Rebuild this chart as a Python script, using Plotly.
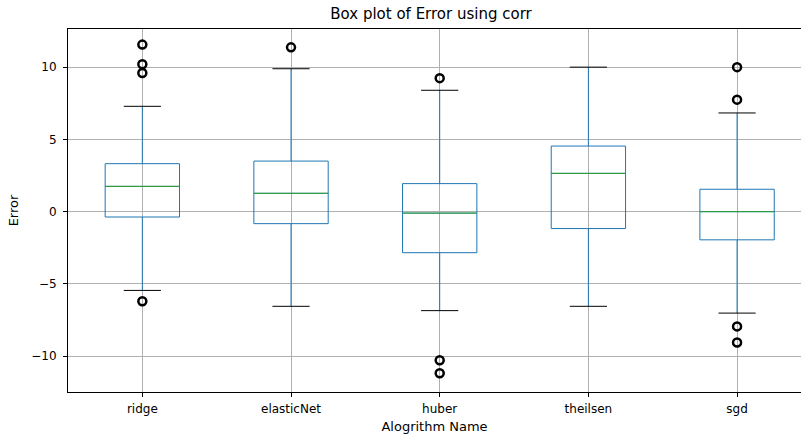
import plotly.graph_objects as go

algorithms = ["ridge", "elasticNet", "huber", "theilsen", "sgd"]
q1_vals = [-0.37, -0.83, -2.84, -1.17, -1.95]
median_vals = [1.75, 1.27, -0.10, 2.65, 0.0]
q3_vals = [3.32, 3.50, 1.94, 4.54, 1.55]
lower_whisker = [-5.45, -6.55, -6.85, -6.55, -7.02]
upper_whisker = [7.29, 9.89, 8.40, 10.0, 6.83]
outlier_algo = ["ridge", "ridge", "ridge", "ridge", "elasticNet",
                "huber", "huber", "huber", "sgd", "sgd", "sgd", "sgd"]
outlier_vals = [11.56, 10.2, 9.6, -6.2, 11.37,
                9.24, -10.28, -11.18, 10.0, 7.75, -7.94, -9.05]

BLUE = "#1f77b4"
GREEN = "#2ca02c"
BOX_W = 0.5
CAP_W = 0.25

pos = {a: i + 1 for i, a in enumerate(algorithms)}

fig = go.Figure()
for a, q1, m, q3, lo, hi in zip(algorithms, q1_vals, median_vals, q3_vals,
                                lower_whisker, upper_whisker):
    p = pos[a]
    fig.add_trace(go.Box(
        x=[p], q1=[q1], median=[m], q3=[q3], lowerfence=[lo], upperfence=[hi],
        width=BOX_W, whiskerwidth=0.001, boxpoints=False,
        line=dict(color=BLUE, width=1), fillcolor="rgba(0,0,0,0)",
        showlegend=False, hoverinfo="skip"))
    # median
    fig.add_trace(go.Scatter(
        x=[p - BOX_W / 2, p + BOX_W / 2], y=[m, m], mode="lines",
        line=dict(color=GREEN, width=1), showlegend=False, hoverinfo="skip"))
    # caps
    for c in (lo, hi):
        fig.add_trace(go.Scatter(
            x=[p - CAP_W / 2, p + CAP_W / 2], y=[c, c], mode="lines",
            line=dict(color="black", width=1), showlegend=False, hoverinfo="skip"))

fig.add_trace(go.Scatter(
    x=[pos[a] for a in outlier_algo], y=outlier_vals, mode="markers",
    marker=dict(symbol="circle-open", size=8, color="black", line=dict(width=2.5)),
    showlegend=False, hoverinfo="skip"))

font = dict(family="DejaVu Sans", size=12, color="#000000")
title_font = dict(family="DejaVu Sans", size=13, color="#000000")
fig.update_layout(
    width=801, height=436,
    margin=dict(l=68, r=0, t=29, b=44),
    paper_bgcolor="white", plot_bgcolor="white",
    boxmode="overlay",
    font=font,
    title=dict(text="Box plot of Error using corr", x=431 / 801, xanchor="center",
               y=1 - 14 / 436, yanchor="middle",
               font=dict(family="DejaVu Sans", size=15, color="#000000")),
    xaxis=dict(
        range=[0.5, 5.43], tickmode="array", tickvals=[pos[a] for a in algorithms],
        ticktext=algorithms, showgrid=True, gridcolor="#b0b0b0", gridwidth=1,
        showline=True, linecolor="black", linewidth=1, mirror=True,
        ticks="outside", ticklen=4, tickcolor="black", zeroline=False,
        ticklabelstandoff=2,
        title=dict(text="Alogrithm Name", standoff=6, font=title_font)),
    yaxis=dict(
        range=[-12.48, 12.64], tickvals=[-10, -5, 0, 5, 10],
        ticktext=["\u221210", "\u22125", "0", "5", "10"],
        showgrid=True, gridcolor="#b0b0b0", gridwidth=1,
        showline=True, linecolor="black", linewidth=1, mirror=False,
        ticks="outside", ticklen=4, tickcolor="black", zeroline=False,
        ticklabelstandoff=4,
        title=dict(text="Error", standoff=9, font=title_font)),
)

fig.write_html("out.html", config={"displayModeBar": False},
               post_script="document.body.style.margin='0';")
